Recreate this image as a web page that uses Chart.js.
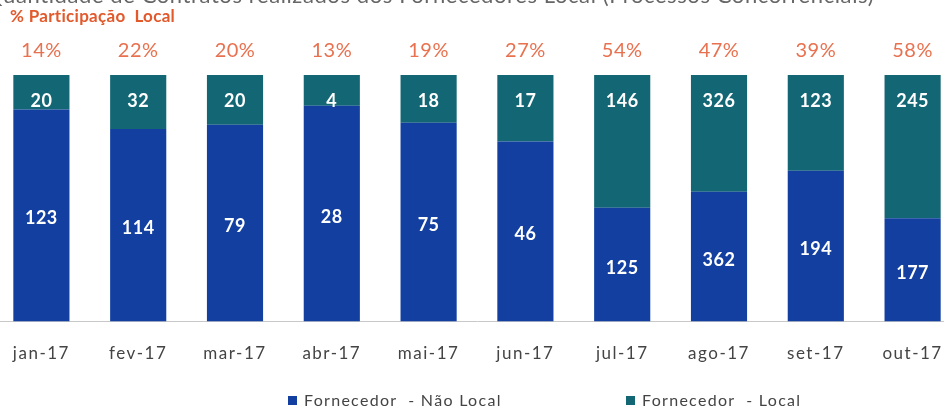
<!DOCTYPE html>
<html>
<head>
<meta charset="utf-8">
<script src="https://cdn.jsdelivr.net/npm/chart.js@4/dist/chart.umd.min.js"></script>
<style>
  html, body { margin: 0; padding: 0; background: #fff; overflow: hidden; }
  #caixa { position: absolute; left: -7px; top: 0; width: 968px; height: 412px; }
</style>
</head>
<body>
<div id="caixa"><canvas id="grafico"></canvas></div>
<script>
// Dados
const meses = ['jan-17', 'fev-17', 'mar-17', 'abr-17', 'mai-17', 'jun-17', 'jul-17', 'ago-17', 'set-17', 'out-17'];
const naoLocal = [123, 114, 79, 28, 75, 46, 125, 362, 194, 177];
const local = [20, 32, 20, 4, 18, 17, 146, 326, 123, 245];
const participacao = [14, 22, 20, 13, 19, 27, 54, 47, 39, 58];

const azul = '#123fa0';
const verde = '#136775';
const laranja = '#e8714f';

// Barras 100% empilhadas: percentagem de cada série no total do mês
const pctNao = naoLocal.map((v, i) => v / (v + local[i]) * 100);
const pctLoc = local.map((v, i) => v / (naoLocal[i] + v) * 100);

// Plugin para os rótulos, títulos e legenda
const extras = {
    id: 'extras',
    beforeDraw(chart) {
        // espaçamento das letras dos meses (como no original)
        chart.ctx.letterSpacing = '1.5px';
    },
    afterDatasetsDraw(chart) {
        const ctx = chart.ctx;
        const area = chart.chartArea;
        ctx.save();
        ctx.letterSpacing = '0.5px';
        ctx.textAlign = 'center';
        ctx.textBaseline = 'middle';
        ctx.font = 'bold 18px Lato';
        ctx.fillStyle = '#ffffff';
        chart.getDatasetMeta(0).data.forEach((bar, i) => {
            ctx.fillText(naoLocal[i], bar.x, (bar.y + bar.base) / 2 + 3);
        });
        chart.getDatasetMeta(1).data.forEach((bar, i) => {
            ctx.fillStyle = '#ffffff';
            ctx.font = 'bold 18px Lato';
            ctx.fillText(local[i], bar.x, bar.y + 26);
            ctx.fillStyle = laranja;
            ctx.font = '20px Lato';
            ctx.fillText(participacao[i] + '%', bar.x, area.top - 24);
        });

        // título cortado no topo
        ctx.textAlign = 'left';
        ctx.textBaseline = 'alphabetic';
        ctx.fillStyle = '#666666';
        ctx.font = '22px Lato';
        ctx.letterSpacing = '0.6px';
        ctx.fillText('Quantidade de Contratos realizados dos Fornecedores Local (Processos Concorrenciais)', -8, 3);

        ctx.letterSpacing = '0.3px';
        ctx.fillStyle = '#e2592b';
        ctx.font = 'bold 17px Lato';
        ctx.fillText('% Participação  Local', 17, 22);

        // legenda
        const itens = [
            { texto: 'Fornecedor  - Não Local', cor: azul, x: 295 },
            { texto: 'Fornecedor  - Local', cor: verde, x: 633 }
        ];
        ctx.font = '16px Lato';
        ctx.textBaseline = 'middle';
        ctx.letterSpacing = '1.3px';
        itens.forEach(item => {
            ctx.fillStyle = item.cor;
            ctx.fillRect(item.x, 396, 9, 9);
            ctx.fillStyle = '#444444';
            ctx.fillText(item.texto, item.x + 16, 401);
        });
        ctx.restore();
    }
};

const ctx = document.getElementById('grafico').getContext('2d');
const grafico = new Chart(ctx, {
    type: 'bar',
    data: {
        labels: meses,
        datasets: [
            { label: 'Fornecedor  - Não Local', data: pctNao, backgroundColor: azul },
            { label: 'Fornecedor  - Local', data: pctLoc, backgroundColor: verde }
        ]
    },
    options: {
        responsive: true,
        maintainAspectRatio: false,
        animation: false,
        events: [],
        layout: { padding: { top: 75, bottom: 34, left: 0, right: 0 } },
        datasets: { bar: { categoryPercentage: 1, barPercentage: 0.58 } },
        plugins: { legend: { display: false }, tooltip: { enabled: false } },
        scales: {
            x: {
                stacked: true,
                grid: { display: false },
                border: { display: true, color: '#c8c8c8', width: 1 },
                ticks: { color: '#444444', font: { family: 'Lato', size: 17 }, padding: 14 }
            },
            y: {
                stacked: true,
                display: false,
                min: 0,
                max: 100
            }
        }
    },
    plugins: [extras]
});
</script>
</body>
</html>
